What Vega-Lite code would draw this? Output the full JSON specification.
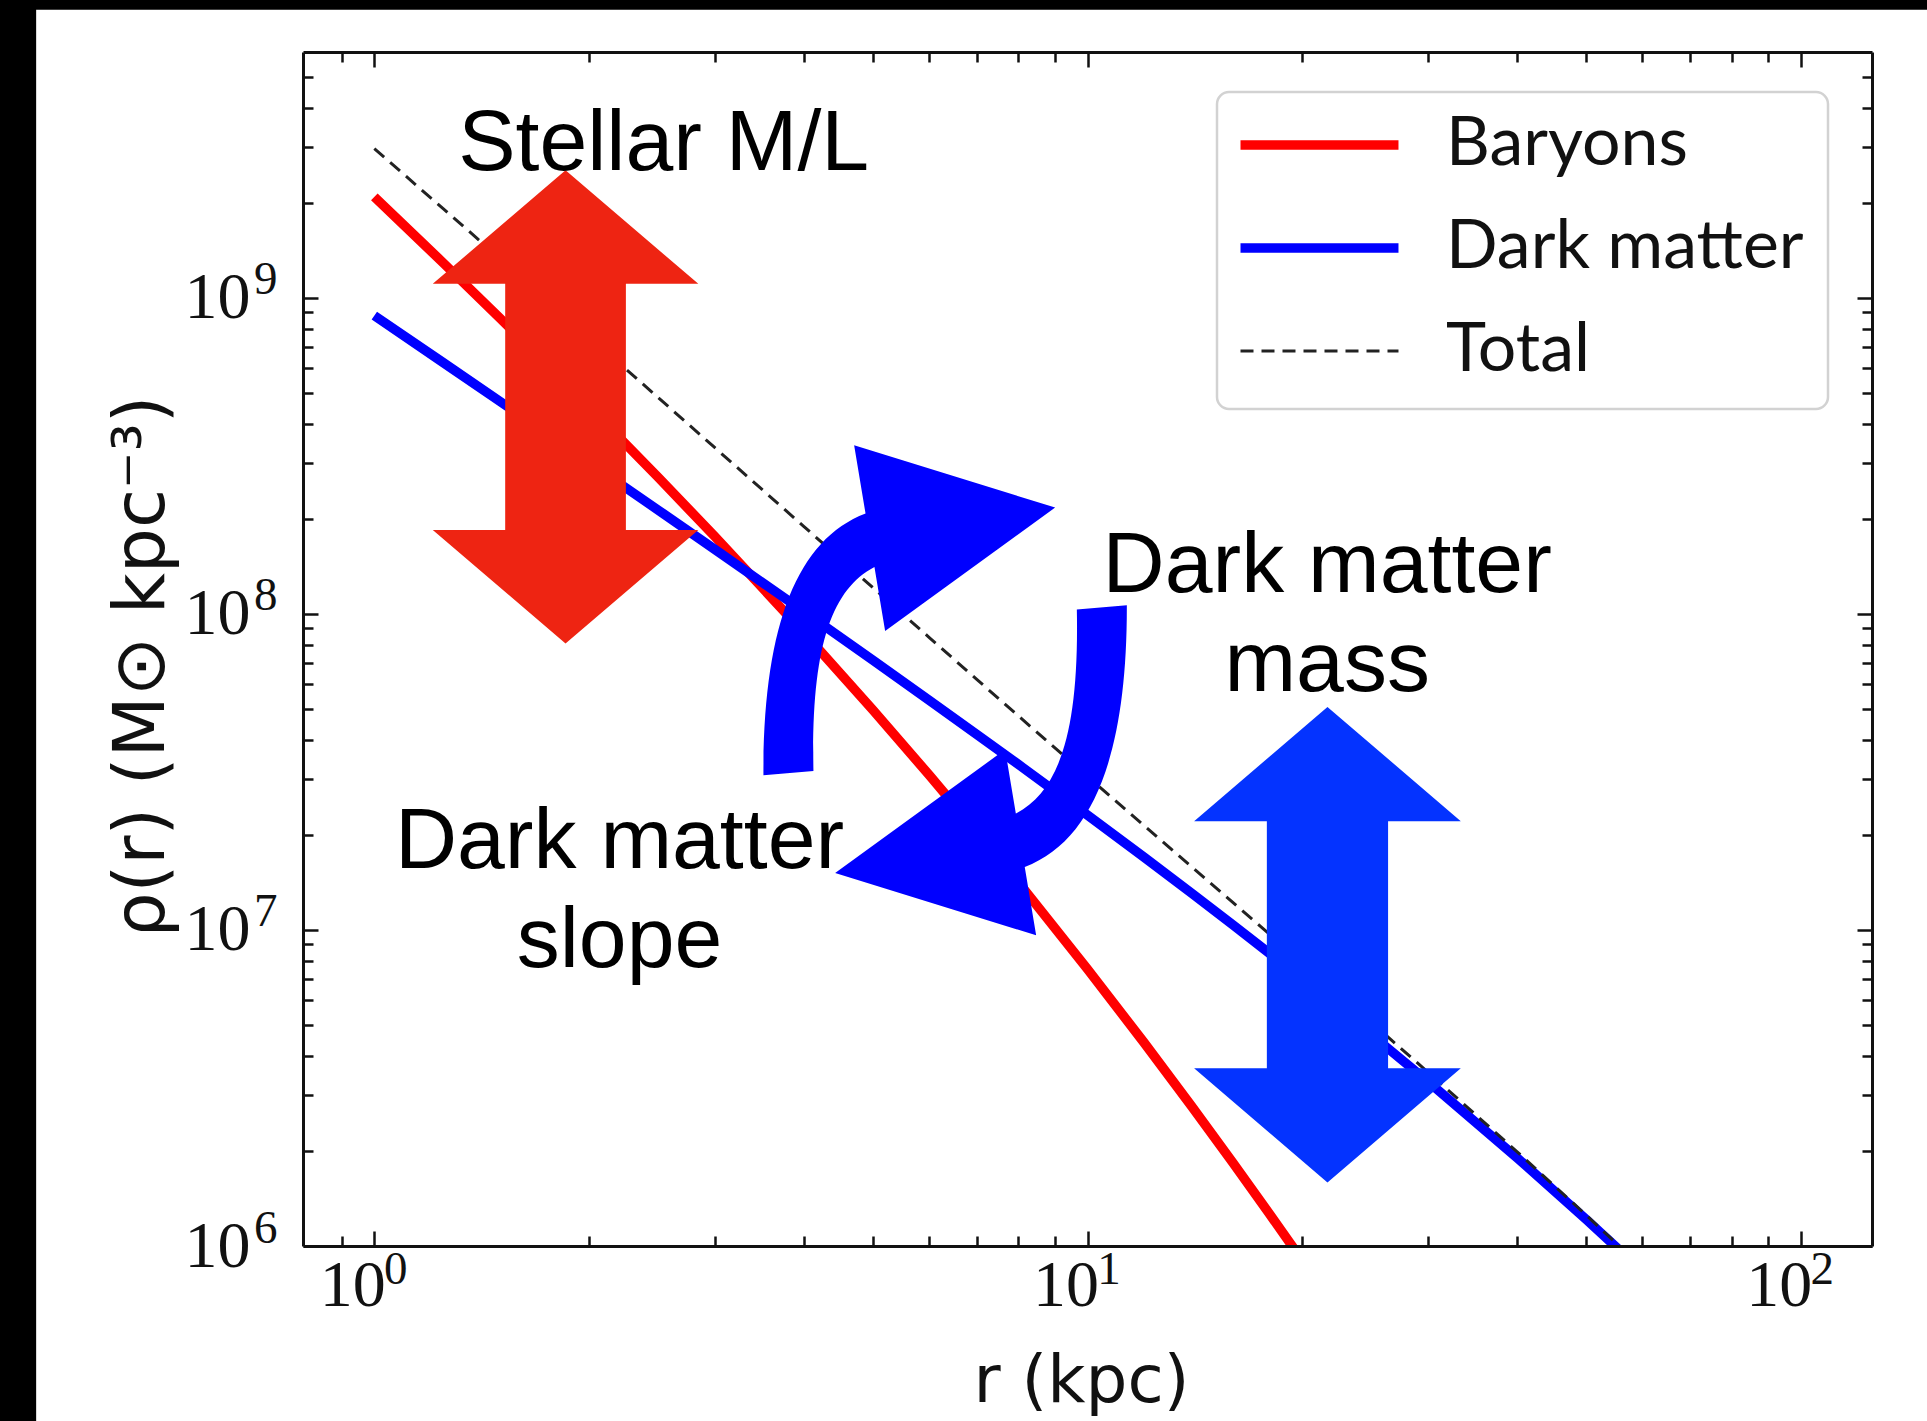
{
  "$schema": "https://vega.github.io/schema/vega-lite/v6.json",
  "width": 1569,
  "height": 1194,
  "autosize": {"type": "none"},
  "padding": {"left": 303, "top": 52, "right": 55, "bottom": 175},
  "background": "#000000",
  "config": {"view": {"stroke": null}},
  "resolve": {"axis": {"x": "independent", "y": "independent"}},
  "datasets": {
    "profiles": [
      {"r": 1.0, "rho": 2.089e9, "series": "Baryons"},
      {"r": 1.25, "rho": 1.289e9, "series": "Baryons"},
      {"r": 1.5, "rho": 8.634e8, "series": "Baryons"},
      {"r": 2.0, "rho": 4.527e8, "series": "Baryons"},
      {"r": 2.5, "rho": 2.707e8, "series": "Baryons"},
      {"r": 3.0, "rho": 1.761e8, "series": "Baryons"},
      {"r": 4.0, "rho": 8.740e7, "series": "Baryons"},
      {"r": 5.0, "rho": 4.973e7, "series": "Baryons"},
      {"r": 6.0, "rho": 3.090e7, "series": "Baryons"},
      {"r": 7.0, "rho": 2.044e7, "series": "Baryons"},
      {"r": 8.0, "rho": 1.416e7, "series": "Baryons"},
      {"r": 10.0, "rho": 7.520e6, "series": "Baryons"},
      {"r": 12.0, "rho": 4.405e6, "series": "Baryons"},
      {"r": 14.0, "rho": 2.766e6, "series": "Baryons"},
      {"r": 16.0, "rho": 1.831e6, "series": "Baryons"},
      {"r": 18.0, "rho": 1.263e6, "series": "Baryons"},
      {"r": 20.0, "rho": 9.01e5, "series": "Baryons"},
      {"r": 22.0, "rho": 6.61e5, "series": "Baryons"},
      {"r": 1.0, "rho": 8.790e8, "series": "Dark matter"},
      {"r": 1.25, "rho": 6.235e8, "series": "Dark matter"},
      {"r": 1.5, "rho": 4.708e8, "series": "Dark matter"},
      {"r": 2.0, "rho": 3.017e8, "series": "Dark matter"},
      {"r": 2.5, "rho": 2.132e8, "series": "Dark matter"},
      {"r": 3.0, "rho": 1.602e8, "series": "Dark matter"},
      {"r": 4.0, "rho": 1.019e8, "series": "Dark matter"},
      {"r": 5.0, "rho": 7.143e7, "series": "Dark matter"},
      {"r": 6.0, "rho": 5.330e7, "series": "Dark matter"},
      {"r": 7.0, "rho": 4.153e7, "series": "Dark matter"},
      {"r": 8.0, "rho": 3.340e7, "series": "Dark matter"},
      {"r": 10.0, "rho": 2.309e7, "series": "Dark matter"},
      {"r": 12.0, "rho": 1.700e7, "series": "Dark matter"},
      {"r": 14.0, "rho": 1.306e7, "series": "Dark matter"},
      {"r": 16.0, "rho": 1.037e7, "series": "Dark matter"},
      {"r": 18.0, "rho": 8.431e6, "series": "Dark matter"},
      {"r": 20.0, "rho": 6.993e6, "series": "Dark matter"},
      {"r": 22.0, "rho": 5.890e6, "series": "Dark matter"},
      {"r": 25.0, "rho": 4.665e6, "series": "Dark matter"},
      {"r": 30.0, "rho": 3.319e6, "series": "Dark matter"},
      {"r": 40.0, "rho": 1.904e6, "series": "Dark matter"},
      {"r": 50.0, "rho": 1.215e6, "series": "Dark matter"},
      {"r": 60.0, "rho": 8.318e5, "series": "Dark matter"},
      {"r": 1.0, "rho": 2.968e9, "series": "Total"},
      {"r": 1.25, "rho": 1.9125e9, "series": "Total"},
      {"r": 1.5, "rho": 1.3342e9, "series": "Total"},
      {"r": 2.0, "rho": 7.544e8, "series": "Total"},
      {"r": 2.5, "rho": 4.839e8, "series": "Total"},
      {"r": 3.0, "rho": 3.363e8, "series": "Total"},
      {"r": 4.0, "rho": 1.893e8, "series": "Total"},
      {"r": 5.0, "rho": 1.2116e8, "series": "Total"},
      {"r": 6.0, "rho": 8.420e7, "series": "Total"},
      {"r": 7.0, "rho": 6.197e7, "series": "Total"},
      {"r": 8.0, "rho": 4.756e7, "series": "Total"},
      {"r": 10.0, "rho": 3.061e7, "series": "Total"},
      {"r": 12.0, "rho": 2.140e7, "series": "Total"},
      {"r": 14.0, "rho": 1.5829e7, "series": "Total"},
      {"r": 16.0, "rho": 1.2201e7, "series": "Total"},
      {"r": 18.0, "rho": 9.694e6, "series": "Total"},
      {"r": 20.0, "rho": 7.894e6, "series": "Total"},
      {"r": 22.0, "rho": 6.551e6, "series": "Total"},
      {"r": 25.0, "rho": 5.098e6, "series": "Total"},
      {"r": 30.0, "rho": 3.553e6, "series": "Total"},
      {"r": 40.0, "rho": 1.990e6, "series": "Total"},
      {"r": 50.0, "rho": 1.254e6, "series": "Total"},
      {"r": 60.0, "rho": 8.52e5, "series": "Total"}
    ]
  },
  "layer": [
    {
      "data": {"values": [{"panel": "page"}]},
      "mark": {"type": "rect", "color": "#ffffff", "clip": false},
      "encoding": {
        "x": {"datum": 0.3356, "type": "quantitative",
          "scale": {"type": "log", "domain": [0.7943, 125.89], "nice": false},
          "axis": {"orient": "bottom", "values": [1, 10, 100], "tickSize": -15, "tickWidth": 2.5, "tickColor": "#111111",
            "domain": true, "domainColor": "#111111", "domainWidth": 3, "grid": false,
            "labelFont": "Liberation Serif", "labelFontSize": 66, "labelColor": "#111111", "labelPadding": 22, "labelOffset": -22,
            "labelBaseline": "top", "labelFlush": false, "labelOverlap": false, "labelExpr": "'10'",
            "title": "r (kpc)", "titleFont": "DejaVu Sans", "titleFontSize": 66, "titleFontWeight": "normal", "titleColor": "#111111",
            "titleX": 778, "titleY": 155, "titleAlign": "center", "titleBaseline": "alphabetic", "zindex": 1}},
        "x2": {"datum": 160},
        "y": {"datum": 8.17e9, "type": "quantitative",
          "scale": {"type": "log", "domain": [1e6, 6e9], "nice": false},
          "axis": {"orient": "left", "values": [1e6, 1e7, 1e8, 1e9], "tickSize": -15, "tickWidth": 2.5, "tickColor": "#111111",
            "domain": true, "domainColor": "#111111", "domainWidth": 3, "grid": false,
            "labelFont": "Liberation Serif", "labelFontSize": 66, "labelColor": "#111111", "labelPadding": 68,
            "labelAlign": "right", "labelBaseline": "middle", "labelFlush": false, "labelOverlap": false, "labelExpr": "'10'",
            "title": "ρ(r) (M⊙ kpc⁻³)", "titleFont": "DejaVu Sans", "titleFontSize": 71, "titleFontWeight": "normal", "titleColor": "#111111",
            "titleX": -140, "titleY": 614, "titleAngle": -90, "titleAlign": "center", "titleBaseline": "alphabetic", "zindex": 1}},
        "y2": {"datum": 1e5}
      }
    },
    {
      "data": {"name": "profiles"},
      "transform": [{"filter": "datum.series !== 'Total'"}],
      "mark": {"type": "line", "clip": true, "strokeWidth": 9.5},
      "encoding": {
        "x": {"field": "r", "type": "quantitative",
          "scale": {"type": "log", "domain": [0.7943, 125.89], "nice": false},
          "axis": {"orient": "bottom", "values": [0.9, 2, 3, 4, 5, 6, 7, 8, 9, 20, 30, 40, 50, 60, 70, 80, 90],
            "tickSize": -10, "tickWidth": 2.5, "tickColor": "#111111", "domain": false, "labels": false, "grid": false, "title": null, "zindex": 1}},
        "y": {"field": "rho", "type": "quantitative",
          "scale": {"type": "log", "domain": [1e6, 6e9], "nice": false},
          "axis": {"orient": "left", "values": [2e6, 3e6, 4e6, 5e6, 6e6, 7e6, 8e6, 9e6, 2e7, 3e7, 4e7, 5e7, 6e7, 7e7, 8e7, 9e7, 2e8, 3e8, 4e8, 5e8, 6e8, 7e8, 8e8, 9e8, 2e9, 3e9, 4e9, 5e9],
            "tickSize": -10, "tickWidth": 2.5, "tickColor": "#111111", "domain": false, "labels": false, "grid": false, "title": null, "zindex": 1}},
        "color": {"field": "series", "type": "nominal",
          "scale": {"domain": ["Baryons", "Dark matter", "Total"], "range": ["#ff0000", "#0000ff", "#222222"]},
          "legend": {"orient": "none", "legendX": 914, "legendY": 40, "title": null, "fillColor": "#ffffff", "strokeColor": "#d2d2d2",
            "cornerRadius": 12, "padding": 24, "symbolType": "M-0.92,-0.133L3.293,-0.133", "symbolSize": 5625, "symbolStrokeWidth": 9.5,
            "labelOffset": 137, "rowPadding": 35, "labelLimit": 1000,
            "labelFont": "Lato", "labelFontSize": 68, "labelColor": "#111111", "zindex": 2,
            "encode": {
              "legend": {"update": {"strokeWidth": {"value": 2.5}}},
              "symbols": {"update": {
                "strokeWidth": {"signal": "datum.value === 'Total' ? 3 : 9.5"},
                "strokeDash": {"signal": "datum.value === 'Total' ? [13, 8] : [1, 0]"}}},
              "labels": {"update": {"dy": {"value": -5}}}
            }}}
      }
    },
    {
      "data": {"name": "profiles"},
      "transform": [{"filter": "datum.series === 'Total'"}],
      "mark": {"type": "line", "clip": true, "strokeWidth": 3, "strokeDash": [13, 8]},
      "encoding": {
        "x": {"field": "r", "type": "quantitative",
          "scale": {"type": "log", "domain": [0.7943, 125.89], "nice": false}, "axis": null},
        "y": {"field": "rho", "type": "quantitative",
          "scale": {"type": "log", "domain": [1e6, 6e9], "nice": false}, "axis": null},
        "color": {"field": "series", "type": "nominal",
          "scale": {"domain": ["Baryons", "Dark matter", "Total"], "range": ["#ff0000", "#0000ff", "#222222"]},
          "legend": {"orient": "none", "legendX": 914, "legendY": 40, "title": null, "fillColor": "#ffffff", "strokeColor": "#d2d2d2",
            "cornerRadius": 12, "padding": 24, "symbolType": "M-0.92,-0.133L3.293,-0.133", "symbolSize": 5625, "symbolStrokeWidth": 9.5,
            "labelOffset": 137, "rowPadding": 35, "labelLimit": 1000,
            "labelFont": "Lato", "labelFontSize": 68, "labelColor": "#111111", "zindex": 2,
            "encode": {
              "legend": {"update": {"strokeWidth": {"value": 2.5}}},
              "symbols": {"update": {
                "strokeWidth": {"signal": "datum.value === 'Total' ? 3 : 9.5"},
                "strokeDash": {"signal": "datum.value === 'Total' ? [13, 8] : [1, 0]"}}},
              "labels": {"update": {"dy": {"value": -5}}}
            }}}
      }
    },
    {
      "data": {"values": [{"r": 1.854, "rho": 4.52e8, "knob": "Stellar M/L"}]},
      "mark": {"type": "point", "filled": true, "opacity": 1, "strokeWidth": 0, "color": "#ee2412", "size": 224013,
        "shape": "M0,-1L0.561,-0.52L0.255,-0.52L0.255,0.52L0.561,0.52L0,1L-0.561,0.52L-0.255,0.52L-0.255,-0.52L-0.561,-0.52Z"},
      "encoding": {
        "x": {"field": "r", "type": "quantitative",
          "scale": {"type": "log", "domain": [0.7943, 125.89], "nice": false},
          "axis": {"orient": "top", "values": [1, 10, 100], "tickSize": -15, "tickWidth": 2.5, "tickColor": "#111111",
            "domain": true, "domainColor": "#111111", "domainWidth": 3, "labels": false, "grid": false, "title": null, "zindex": 1}},
        "y": {"field": "rho", "type": "quantitative",
          "scale": {"type": "log", "domain": [1e6, 6e9], "nice": false},
          "axis": {"orient": "right", "values": [1e6, 1e7, 1e8, 1e9], "tickSize": -15, "tickWidth": 2.5, "tickColor": "#111111",
            "domain": true, "domainColor": "#111111", "domainWidth": 3, "labels": false, "grid": false, "title": null, "zindex": 1}}
      }
    },
    {
      "data": {"values": [{"r": 21.70, "rho": 8.98e6, "knob": "Dark matter mass"}]},
      "mark": {"type": "point", "filled": true, "opacity": 1, "strokeWidth": 0, "color": "#0433ff", "size": 226000,
        "shape": "M0,-1L0.561,-0.52L0.255,-0.52L0.255,0.52L0.561,0.52L0,1L-0.561,0.52L-0.255,0.52L-0.255,-0.52L-0.561,-0.52Z"},
      "encoding": {
        "x": {"field": "r", "type": "quantitative",
          "scale": {"type": "log", "domain": [0.7943, 125.89], "nice": false},
          "axis": {"orient": "top", "values": [0.9, 2, 3, 4, 5, 6, 7, 8, 9, 20, 30, 40, 50, 60, 70, 80, 90],
            "tickSize": -10, "tickWidth": 2.5, "tickColor": "#111111", "domain": false, "labels": false, "grid": false, "title": null, "zindex": 1}},
        "y": {"field": "rho", "type": "quantitative",
          "scale": {"type": "log", "domain": [1e6, 6e9], "nice": false},
          "axis": {"orient": "right", "values": [2e6, 3e6, 4e6, 5e6, 6e6, 7e6, 8e6, 9e6, 2e7, 3e7, 4e7, 5e7, 6e7, 7e7, 8e7, 9e7, 2e8, 3e8, 4e8, 5e8, 6e8, 7e8, 8e8, 9e8, 2e9, 3e9, 4e9, 5e9],
            "tickSize": -10, "tickWidth": 2.5, "tickColor": "#111111", "domain": false, "labels": false, "grid": false, "title": null, "zindex": 1}}
      }
    },
    {
      "data": {"values": [{"r": 6.315, "rho": 5.735e7, "knob": "Dark matter slope"}]},
      "mark": {"type": "point", "filled": true, "opacity": 1, "strokeWidth": 0, "color": "#0000ff", "size": 250000,
        "shape": "M-0.7268,0.34C-0.728,-0.24,-0.6,-0.6,-0.3184,-0.7068L-0.364,-0.98L0.44,-0.7308L-0.24,-0.2372L-0.2828,-0.4932C-0.46,-0.4,-0.536,-0.16,-0.5268,0.3228ZM0.7268,-0.34C0.728,0.24,0.6,0.6,0.3184,0.7068L0.364,0.98L-0.44,0.7308L0.24,0.2372L0.2828,0.4932C0.46,0.4,0.536,0.16,0.5268,-0.3228Z"},
      "encoding": {
        "x": {"field": "r", "type": "quantitative",
          "scale": {"type": "log", "domain": [0.7943, 125.89], "nice": false},
          "axis": {"orient": "bottom", "values": [1, 10, 100], "ticks": false, "domain": false, "grid": false, "title": null,
            "labelFont": "Liberation Serif", "labelFontSize": 47, "labelColor": "#111111", "labelPadding": 0, "labelOffset": 21,
            "labelBaseline": "top", "labelFlush": false, "labelOverlap": false,
            "labelExpr": "'' + round(log(datum.value) / LN10)", "zindex": 1}},
        "y": {"field": "rho", "type": "quantitative",
          "scale": {"type": "log", "domain": [1e6, 6e9], "nice": false},
          "axis": {"orient": "left", "values": [1e6, 1e7, 1e8, 1e9], "ticks": false, "domain": false, "grid": false, "title": null,
            "labelFont": "Liberation Serif", "labelFontSize": 47, "labelColor": "#111111", "labelPadding": 26, "labelOffset": -18,
            "labelAlign": "right", "labelBaseline": "middle", "labelFlush": false, "labelOverlap": false,
            "labelExpr": "'' + round(log(datum.value) / LN10)", "zindex": 1}}
      }
    },
    {
      "data": {"values": [
        {"r": 2.545, "rho": 2.535e9, "label": "Stellar M/L"},
        {"r": 21.68, "rho": 1.172e8, "label": "Dark matter\nmass"},
        {"r": 2.207, "rho": 1.568e7, "label": "Dark matter\nslope"}
      ]},
      "mark": {"type": "text", "font": "Liberation Sans", "fontSize": 86, "color": "#000000", "align": "center",
        "baseline": "alphabetic", "lineBreak": "\n", "lineHeight": 99},
      "encoding": {
        "x": {"field": "r", "type": "quantitative", "scale": {"type": "log", "domain": [0.7943, 125.89], "nice": false}, "axis": null},
        "y": {"field": "rho", "type": "quantitative", "scale": {"type": "log", "domain": [1e6, 6e9], "nice": false}, "axis": null},
        "text": {"field": "label"}
      }
    }
  ]
}
